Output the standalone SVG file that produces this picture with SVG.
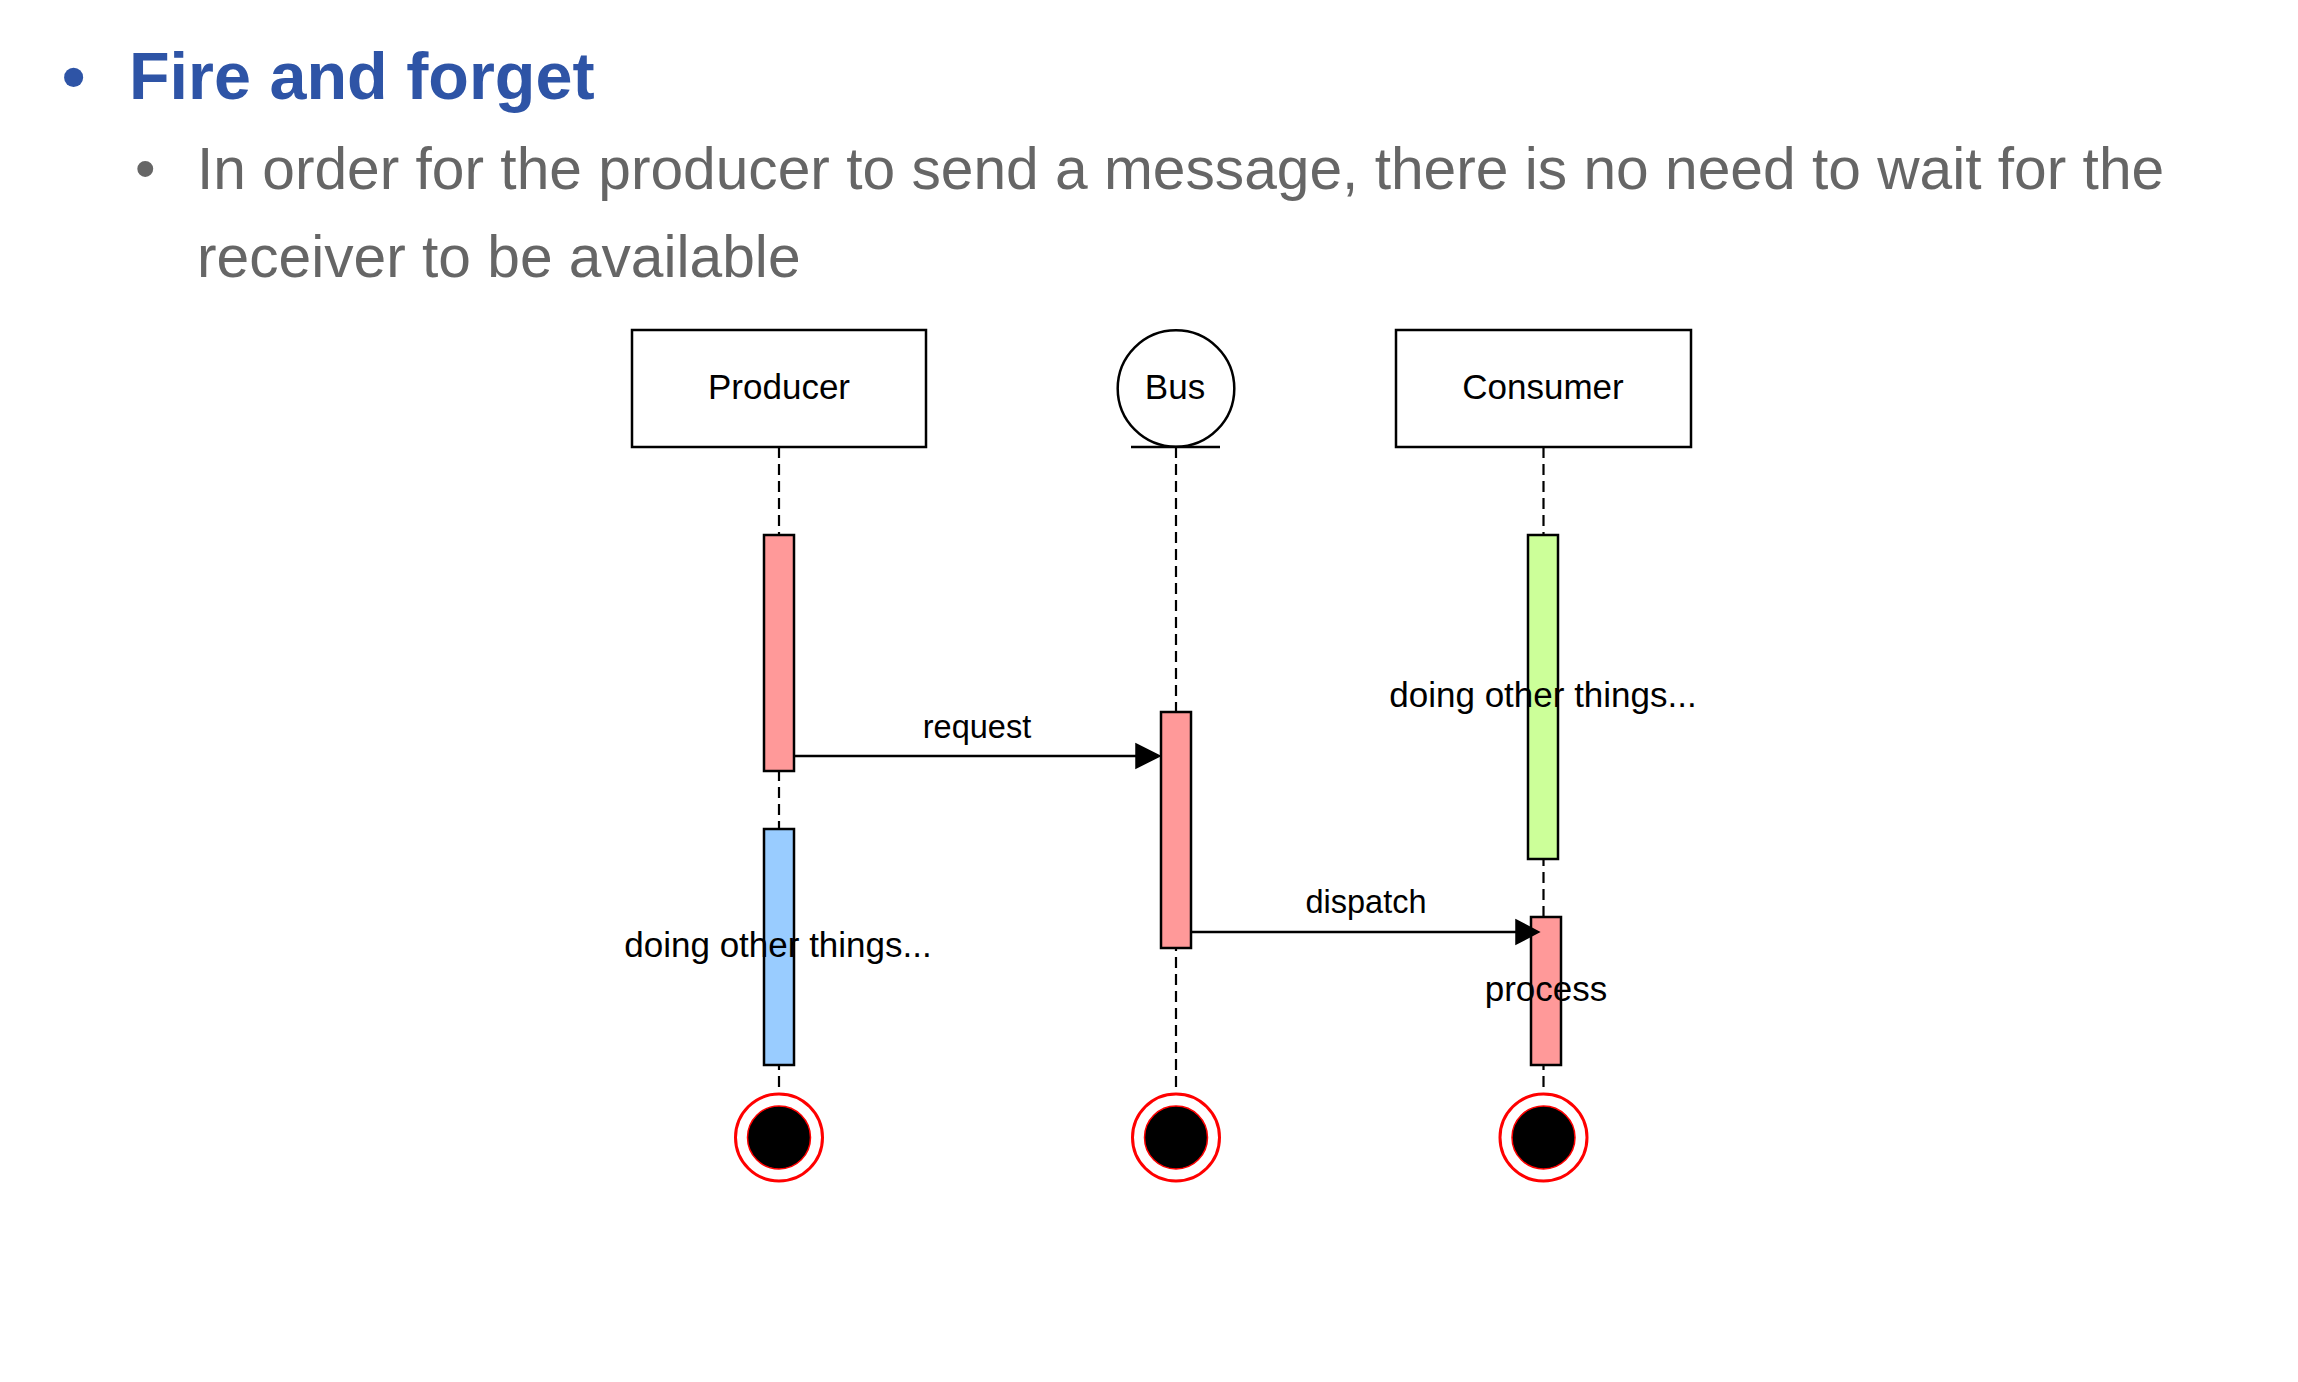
<svg xmlns="http://www.w3.org/2000/svg" width="2298" height="1382" viewBox="0 0 2298 1382">
<defs>
<style>
.title{font-family:"Liberation Sans",Arial,sans-serif;font-weight:bold;font-size:66.5px;fill:#2E54A6}
.sub{font-family:"Liberation Sans",Arial,sans-serif;font-size:58.7px;fill:#666666}
.lbl{font-family:"Liberation Sans",Arial,sans-serif;font-size:35px;fill:#000;text-anchor:middle}
.elbl{font-family:"Liberation Sans",Arial,sans-serif;font-size:32.5px;fill:#000;text-anchor:middle}
.box{fill:#fff;stroke:#000;stroke-width:2.5}
.life{stroke:#000;stroke-width:2.2;stroke-dasharray:11 6;fill:none}
.red{fill:#FF9999;stroke:#000;stroke-width:2.5}
.green{fill:#CCFF99;stroke:#000;stroke-width:2.5}
.blue{fill:#99CCFF;stroke:#000;stroke-width:2.5}
.msg{stroke:#000;stroke-width:2.5;fill:none}
.endo{fill:#fff;stroke:#FF0000;stroke-width:3}
.endi{fill:#000;stroke:#FF0000;stroke-width:1.5}
</style>
</defs>
<rect width="2298" height="1382" fill="#fff"/>
<g id="heading">
<text class="title" x="62" y="98.5">•</text>
<text class="title" x="129" y="98.5">Fire and forget</text>
</g>
<g id="bullet">
<text class="sub" x="135" y="189">•</text>
<text class="sub" x="197" y="189">In order for the producer to send a message, there is no need to wait for the</text>
<text class="sub" x="197" y="277">receiver to be available</text>
</g>
<g id="lifelines">
<line class="life" x1="779" y1="447" x2="779" y2="1093"/>
<line class="life" x1="1176" y1="447" x2="1176" y2="1093"/>
<line class="life" x1="1543.5" y1="447" x2="1543.5" y2="1093"/>
</g>
<g id="producer">
<rect class="box" x="632" y="330" width="294" height="117"/>
<text class="lbl" x="779" y="399">Producer</text>
</g>
<g id="bus">
<circle class="box" cx="1176" cy="388.5" r="58.3"/>
<line x1="1131" y1="447" x2="1220" y2="447" stroke="#000" stroke-width="2.5"/>
<text class="lbl" x="1175" y="399">Bus</text>
</g>
<g id="consumer">
<rect class="box" x="1396" y="330" width="295" height="117"/>
<text class="lbl" x="1543" y="399">Consumer</text>
</g>
<g id="producer-send">
<rect class="red" x="764" y="535" width="30" height="236"/>
</g>
<g id="producer-other">
<rect class="blue" x="764" y="829" width="30" height="236"/>
<text class="lbl" x="778" y="957">doing other things...</text>
</g>
<g id="bus-activation">
<rect class="red" x="1161" y="712" width="30" height="236"/>
</g>
<g id="consumer-other">
<rect class="green" x="1528" y="535" width="30" height="324"/>
<text class="lbl" x="1543" y="707">doing other things...</text>
</g>
<g id="consumer-process">
<rect class="red" x="1531" y="917" width="30" height="148"/>
<text class="lbl" x="1546" y="1001">process</text>
</g>
<g id="end-producer">
<circle class="endo" cx="779" cy="1137.5" r="43.5"/>
<circle class="endi" cx="779" cy="1137.5" r="31.5"/>
</g>
<g id="end-bus">
<circle class="endo" cx="1176" cy="1137.5" r="43.5"/>
<circle class="endi" cx="1176" cy="1137.5" r="31.5"/>
</g>
<g id="end-consumer">
<circle class="endo" cx="1543.5" cy="1137.5" r="43.5"/>
<circle class="endi" cx="1543.5" cy="1137.5" r="31.5"/>
</g>
<g id="connectors">
<line class="msg" x1="794" y1="756" x2="1138" y2="756"/>
<polygon points="1136,744 1160,756 1136,768" fill="#000" stroke="#000" stroke-width="1.5"/>
<text class="elbl" x="977" y="738">request</text>
<line class="msg" x1="1191" y1="932" x2="1518" y2="932"/>
<polygon points="1516,920 1539,932 1516,944" fill="#000" stroke="#000" stroke-width="1.5"/>
<text class="elbl" x="1366" y="913">dispatch</text>
</g>
</svg>
